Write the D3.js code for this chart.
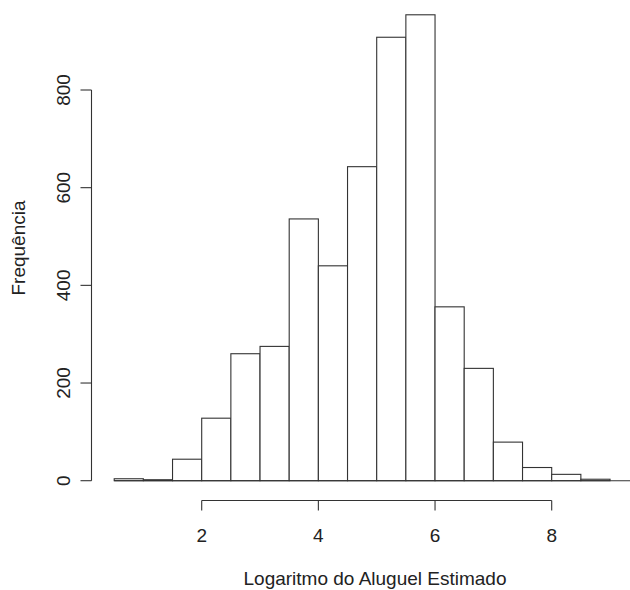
<!DOCTYPE html>
<html><head><meta charset="utf-8">
<script src="https://cdn.jsdelivr.net/npm/d3@7"></script>
<style>body{margin:0;background:#fff}svg{display:block}text{font-family:Arial,"Liberation Sans",sans-serif;fill:#222}</style>
</head><body><svg id="c" width="630" height="590"></svg>
<script>
const binStarts = [0.5,1,1.5,2,2.5,3,3.5,4,4.5,5,5.5,6,6.5,7,7.5,8,8.5];
const binWidth = 0.5;
const counts = [4,2,44,128,260,275,536,440,643,908,954,356,230,79,27,13,3];
const xTicks = [2,4,6,8];
const yTicks = [0,200,400,600,800];
const xTitle = "Logaritmo do Aluguel Estimado";
const yTitle = "Frequência";

const svg = d3.select("#c");
const x = d3.scaleLinear().domain([2,8]).range([201.7,551.7]);
const y = d3.scaleLinear().domain([0,800]).range([480.7,90]);
const col = "#333";
const fs = "19px";

// bars
svg.append("g").selectAll("rect").data(binStarts).join("rect")
  .attr("x", d=>x(d)).attr("width", d=>x(d+binWidth)-x(d))
  .attr("y", (d,i)=>y(counts[i])).attr("height", (d,i)=>y(0)-y(counts[i]))
  .attr("fill","#fff").attr("stroke",col).attr("stroke-width",1.1);

// baseline
svg.append("line").attr("x1", x(binStarts[0])).attr("x2", 630)
  .attr("y1", y(0)).attr("y2", y(0)).attr("stroke",col).attr("stroke-width",1.1);

// x axis
const xa = svg.append("g").attr("transform","translate(0,500.5)");
xa.append("line").attr("x1",x(xTicks[0])).attr("x2",x(xTicks[xTicks.length-1])).attr("stroke",col).attr("stroke-width",1.1);
xa.selectAll("line.t").data(xTicks).join("line").attr("class","t")
  .attr("x1",d=>x(d)).attr("x2",d=>x(d)).attr("y1",0).attr("y2",10).attr("stroke",col).attr("stroke-width",1.1);
xa.selectAll("text").data(xTicks).join("text")
  .attr("x",d=>x(d)).attr("y",41).attr("text-anchor","middle").attr("font-size",fs).text(d=>d);

// y axis
const ya = svg.append("g").attr("transform","translate(91.5,0)");
ya.append("line").attr("y1",y(yTicks[0])).attr("y2",y(yTicks[yTicks.length-1])).attr("stroke",col).attr("stroke-width",1.1);
ya.selectAll("line.t").data(yTicks).join("line").attr("class","t")
  .attr("y1",d=>y(d)).attr("y2",d=>y(d)).attr("x1",0).attr("x2",-11).attr("stroke",col).attr("stroke-width",1.1);
ya.selectAll("text").data(yTicks).join("text")
  .attr("transform",d=>`translate(-22,${y(d)}) rotate(-90)`)
  .attr("text-anchor","middle").attr("font-size",fs).text(d=>d);

// titles
svg.append("text").attr("x",375).attr("y",585).attr("text-anchor","middle").attr("font-size",fs).text(xTitle);
svg.append("text").attr("transform","translate(25,248) rotate(-90)").attr("text-anchor","middle").attr("font-size",fs).text(yTitle);
</script></body></html>
